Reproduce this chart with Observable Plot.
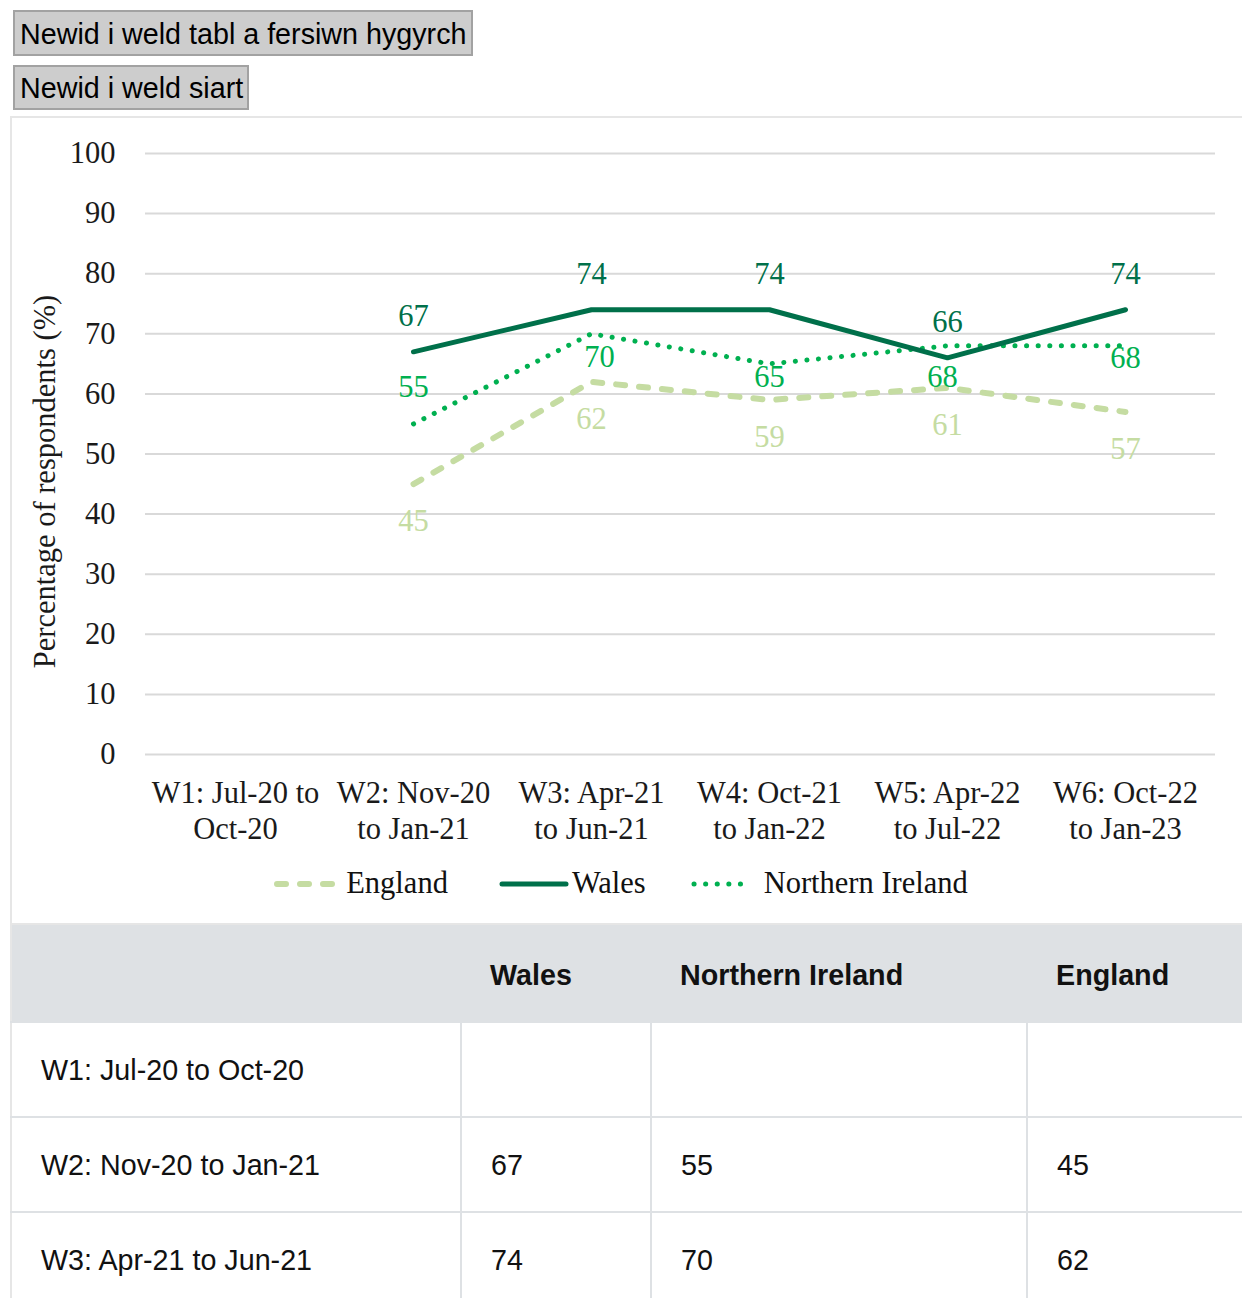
<!DOCTYPE html>
<html>
<head>
<meta charset="utf-8">
<script src="https://cdn.jsdelivr.net/npm/d3@7"></script>
<script src="https://cdn.jsdelivr.net/npm/@observablehq/plot@0.6"></script>
<style>
  html, body { margin: 0; padding: 0; background: #fff; overflow: hidden; }
  body { width: 1242px; height: 1298px; position: relative; font-family: "Liberation Sans", Arial, sans-serif; }
  .btn { position: absolute; left: 13px; box-sizing: border-box; background: #cdcdcd; border: 2px solid #a2a2a2;
         font: 28.7px "Liberation Sans", Arial, sans-serif; color: #000; padding: 0 0 0 5px; white-space: nowrap; }
  #b1 { top: 10px; width: 460px; height: 46px; line-height: 44px; }
  #b2 { top: 65px; width: 236px; height: 45px; line-height: 43px; }
  #chartbox { position: absolute; left: 10px; top: 116px; width: 1300px; height: 809px; box-sizing: border-box;
              border: 2px solid #e6e6e6; border-right: none; }
  #chart { position: absolute; left: -12px; top: -2px; }
  #legend { position: absolute; left: -12px; top: 748px; width: 1242px; display: flex; justify-content: center; align-items: center;
            font: 30.5px "Liberation Serif", "Times New Roman", serif; color: #111; }
  #legend .item { display: flex; align-items: center; }
  #legend svg { display: block; }
  #datatable { position: absolute; left: 10px; top: 925px; width: 1300px; border-collapse: collapse; table-layout: fixed;
               font: 28.7px "Liberation Sans", Arial, sans-serif; color: #111; border-left: 2px solid #e6e6e6; }
  #datatable th, #datatable td { text-align: left; padding: 0 0 0 29px; box-sizing: border-box; }
  #datatable thead th { background: #dee1e4; height: 97px; font-weight: bold; padding-top: 4px; }
  #datatable tbody td { height: 95px; border-top: 2px solid #dee1e4; border-left: 2px solid #dee1e4; padding-top: 2px; }
  #datatable tbody td:first-child { border-left: none; }
</style>
</head>
<body>
<div class="btn" id="b1">Newid i weld tabl a fersiwn hygyrch</div>
<div class="btn" id="b2">Newid i weld siart</div>
<div id="chartbox">
  <div id="chart"></div>
  <div id="legend"></div>
</div>
<table id="datatable">
  <colgroup><col style="width:450px"><col style="width:190px"><col style="width:376px"><col></colgroup>
  <thead><tr id="thead-row"></tr></thead>
  <tbody id="tbody"></tbody>
</table>
<script>
// Survey waves and their wrapped axis labels
const waves = [
  "W1: Jul-20 to Oct-20",
  "W2: Nov-20 to Jan-21",
  "W3: Apr-21 to Jun-21",
  "W4: Oct-21 to Jan-22",
  "W5: Apr-22 to Jul-22",
  "W6: Oct-22 to Jan-23"
];
const waveTickLabels = [
  "W1: Jul-20 to\nOct-20",
  "W2: Nov-20\nto Jan-21",
  "W3: Apr-21\nto Jun-21",
  "W4: Oct-21\nto Jan-22",
  "W5: Apr-22\nto Jul-22",
  "W6: Oct-22\nto Jan-23"
];

// Percentage of respondents per wave (no data for W1)
const wales = [null, 67, 74, 74, 66, 74];
const northernIreland = [null, 55, 70, 65, 68, 68];
const england = [null, 45, 62, 59, 61, 57];

const yTicks = [0, 10, 20, 30, 40, 50, 60, 70, 80, 90, 100];
const yLabel = "Percentage of respondents (%)";
const tableHeaders = ["", "Wales", "Northern Ireland", "England"];

const colors = { Wales: "#00704a", "Northern Ireland": "#00b050", England: "#c5dca2" };

const toRows = (values) => waves.map((wave, i) => ({ wave, value: values[i], i })).filter(d => d.value != null);
const walesRows = toRows(wales);
const niRows = toRows(northernIreland);
const englandRows = toRows(england);

// Label placement for Northern Ireland values, kept clear of the other series
const niLabelDy = [0, -37, 23, 13, 31, 12];
const niLabelDx = [0, 0, 8, 0, -5, 0];

const serif = '"Liberation Serif", "Times New Roman", serif';
const fs = 30.5;

const chart = Plot.plot({
  width: 1242,
  height: 760,
  marginLeft: 145,
  marginRight: 27,
  marginTop: 37,
  marginBottom: 122,
  style: { fontFamily: serif, fontSize: fs + "px", background: "transparent", overflow: "visible" },
  x: { type: "band", domain: waves, padding: 0 },
  y: { domain: [0, 100] },
  marks: [
    Plot.gridY(yTicks, { stroke: "#d9d9d9", strokeOpacity: 1, strokeWidth: 2 }),
    Plot.axisY(yTicks, { tickSize: 0, tickPadding: 30, label: null, fill: "#1a1a1a", fontSize: fs }),
    Plot.axisX({
      tickSize: 0, tickPadding: 23, label: null, fill: "#1a1a1a", fontSize: fs, lineHeight: 1.18,
      tickFormat: d => waveTickLabels[waves.indexOf(d)]
    }),
    Plot.text([yLabel], {
      frameAnchor: "left", textAnchor: "middle", rotate: -90, dx: -100, dy: 27.5, fill: "#1a1a1a", fontSize: fs
    }),

    Plot.lineY(englandRows, {
      x: "wave", y: "value", stroke: colors.England, strokeWidth: 6,
      strokeDasharray: "9 14", strokeLinecap: "round"
    }),
    Plot.lineY(niRows, {
      x: "wave", y: "value", stroke: colors["Northern Ireland"], strokeWidth: 5,
      strokeDasharray: "0.1 11.5", strokeLinecap: "round"
    }),
    Plot.lineY(walesRows, {
      x: "wave", y: "value", stroke: colors.Wales, strokeWidth: 5, strokeLinecap: "round", strokeLinejoin: "round"
    }),

    Plot.text(walesRows, { x: "wave", y: "value", text: d => String(d.value), dy: -36, fill: colors.Wales, fontSize: fs }),
    Plot.text(englandRows, { x: "wave", y: "value", text: d => String(d.value), dy: 37, fill: colors.England, fontSize: fs }),
    ...niRows.map(d => Plot.text([d], {
      x: "wave", y: "value", text: r => String(r.value),
      dx: niLabelDx[d.i], dy: niLabelDy[d.i], fill: colors["Northern Ireland"], fontSize: fs
    }))
  ]
});
document.getElementById("chart").append(chart);

// Legend
const legendItems = [
  { name: "England", w: 62, gapAfterSwatch: 10, gapAfter: 51,
    draw: (g, w) => g.append("line").attr("x1", 3).attr("x2", w - 3).attr("y1", 10).attr("y2", 10)
      .attr("stroke", colors.England).attr("stroke-width", 6).attr("stroke-linecap", "round").attr("stroke-dasharray", "9 14") },
  { name: "Wales", w: 70, gapAfterSwatch: 3, gapAfter: 45,
    draw: (g, w) => g.append("line").attr("x1", 3).attr("x2", w - 3).attr("y1", 10).attr("y2", 10)
      .attr("stroke", colors.Wales).attr("stroke-width", 5).attr("stroke-linecap", "round") },
  { name: "Northern Ireland", w: 64, gapAfterSwatch: 9, gapAfter: 0,
    draw: (g, w) => g.append("line").attr("x1", 3).attr("x2", w - 3).attr("y1", 10).attr("y2", 10)
      .attr("stroke", colors["Northern Ireland"]).attr("stroke-width", 5).attr("stroke-linecap", "round").attr("stroke-dasharray", "0.1 11.5") }
];
const legend = d3.select("#legend");
legendItems.forEach(item => {
  const div = legend.append("div").attr("class", "item").style("margin-right", item.gapAfter + "px");
  const svg = div.append("svg").attr("width", item.w).attr("height", 20).style("margin-right", item.gapAfterSwatch + "px");
  item.draw(svg, item.w);
  div.append("span").text(item.name);
});

// Accessible data table
const headRow = d3.select("#thead-row");
tableHeaders.forEach(h => headRow.append("th").text(h));
const tbody = d3.select("#tbody");
waves.forEach((wave, i) => {
  const tr = tbody.append("tr");
  tr.append("td").text(wave);
  [wales[i], northernIreland[i], england[i]].forEach(v => tr.append("td").text(v == null ? "" : v));
});
</script>
</body>
</html>
